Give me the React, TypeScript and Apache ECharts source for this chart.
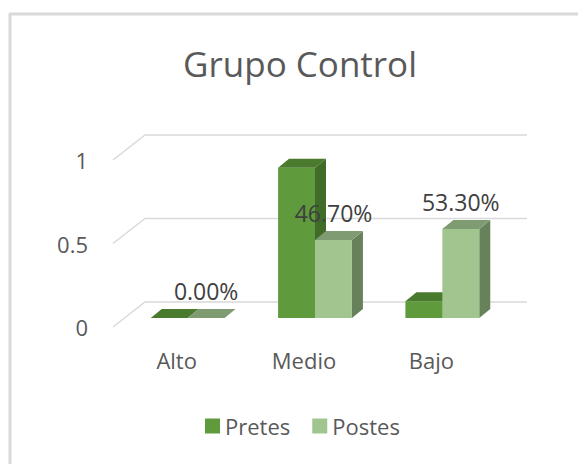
import React, { useEffect, useRef } from "react";
import * as echarts from "echarts";

const categories = ["Alto", "Medio", "Bajo"];
const pretes = [0, 0.9, 0.1];
const postes = [0, 0.467, 0.533];
const postesLabels = ["0.00%", "46.70%", "53.30%"];
const yTicks = [0, 0.5, 1];

const FONT = "'Open Sans', sans-serif";
const FLOOR = [32, -25];
const BAR_OFF = [11, -9];

const pretesColors = { front: "#5f9a3c", top: "#4a7a2e", side: "#406b28" };
const postesColors = { front: "#a0c58e", top: "#7e9b72", side: "#67815b" };

function barRenderer(seriesIdx: number, colors: any, labels?: string[]) {
  return (params: any, api: any) => {
    const cat = api.value(0);
    const v = api.value(1);
    const base = api.coord([cat, 0]);
    const top = api.coord([cat, v]);
    const band = api.size([1, 0])[0];
    const w = band * 0.29;
    const dx = BAR_OFF[0];
    const dy = BAR_OFF[1];
    const x0 = base[0] - w + seriesIdx * w + dx;
    const x1 = x0 + w;
    const yb = base[1] + dy;
    const yt = top[1] + dy;
    const children: any[] = [
      {
        type: "polygon",
        shape: { points: [[x1, yt], [x1 + dx, yt + dy], [x1 + dx, yb + dy], [x1, yb]] },
        style: { fill: colors.side },
      },
      {
        type: "rect",
        shape: { x: x0, y: yt, width: w, height: Math.max(0, yb - yt) },
        style: { fill: colors.front },
      },
      {
        type: "polygon",
        shape: { points: [[x0, yt], [x1, yt], [x1 + dx, yt + dy], [x0 + dx, yt + dy]] },
        style: { fill: colors.top },
      },
    ];
    if (labels) {
      children.push({
        type: "text",
        x: (x0 + x1) / 2,
        y: yt - 27,
        z2: 100,
        style: {
          text: labels[params.dataIndex],
          fill: "#404040",
          fontSize: 23,
          fontFamily: FONT,
          align: "center",
          verticalAlign: "middle",
        },
      });
    }
    return { type: "group", children };
  };
}

export default function App() {
  const ref = useRef<HTMLDivElement>(null);
  useEffect(() => {
    if (!ref.current) return;
    const chart = echarts.init(ref.current, undefined, { renderer: "svg" });
    chart.setOption({
      animation: false,
      backgroundColor: "#ffffff",
      textStyle: { fontFamily: FONT },
      title: {
        text: "Grupo Control",
        left: 178,
        top: 41,
        textStyle: { fontSize: 35, fontWeight: "normal", color: "#595959", fontFamily: FONT },
      },
      legend: {
        data: ["Pretes", "Postes"],
        left: 200,
        top: 410,
        icon: "rect",
        itemWidth: 15,
        itemHeight: 15,
        itemGap: 22,
        textStyle: { fontSize: 22, color: "#595959", fontFamily: FONT },
      },
      graphic: [
        { type: "line", shape: { x1: 9, y1: 14, x2: 578, y2: 14 }, style: { stroke: "#d9d9d9", lineWidth: 3 } },
        { type: "line", shape: { x1: 10, y1: 13, x2: 10, y2: 464 }, style: { stroke: "#d9d9d9", lineWidth: 3 } },
      ],
      grid: { left: 113, top: 160, width: 382, height: 167 },
      xAxis: {
        type: "category",
        data: categories,
        axisLine: { show: false },
        axisTick: { show: false },
        axisLabel: { fontSize: 22, color: "#595959", margin: 22, fontFamily: FONT },
      },
      yAxis: {
        type: "value",
        min: 0,
        max: 1,
        interval: 0.5,
        axisLine: { show: false },
        axisTick: { show: false },
        splitLine: { show: false },
        axisLabel: { fontSize: 22, color: "#595959", margin: 25, fontFamily: FONT, formatter: (v: number) => String(v) },
      },
      series: [
        {
          name: "gridlines",
          type: "custom",
          z: 1,
          clip: false,
          silent: true,
          data: yTicks.map((v) => [0, v]),
          renderItem: (params: any, api: any) => {
            const cs = params.coordSys;
            const y = api.coord([0, api.value(1)])[1];
            const left = cs.x;
            const right = cs.x + cs.width;
            return {
              type: "polyline",
              shape: { points: [[left, y], [left + FLOOR[0], y + FLOOR[1]], [right + FLOOR[0], y + FLOOR[1]]] },
              style: { stroke: "#d9d9d9", lineWidth: 1.5, fill: "none" },
            };
          },
        },
        {
          name: "Pretes",
          type: "custom",
          z: 2,
          clip: false,
          itemStyle: { color: pretesColors.front },
          data: pretes.map((v, i) => [i, v]),
          renderItem: barRenderer(0, pretesColors),
        },
        {
          name: "Postes",
          type: "custom",
          z: 3,
          clip: false,
          itemStyle: { color: postesColors.front },
          data: postes.map((v, i) => [i, v]),
          renderItem: barRenderer(1, postesColors, postesLabels),
        },
      ],
    });
    return () => chart.dispose();
  }, []);
  return <div ref={ref} style={{ position: "absolute", left: 0, top: 0, width: 578, height: 464 }} />;
}
